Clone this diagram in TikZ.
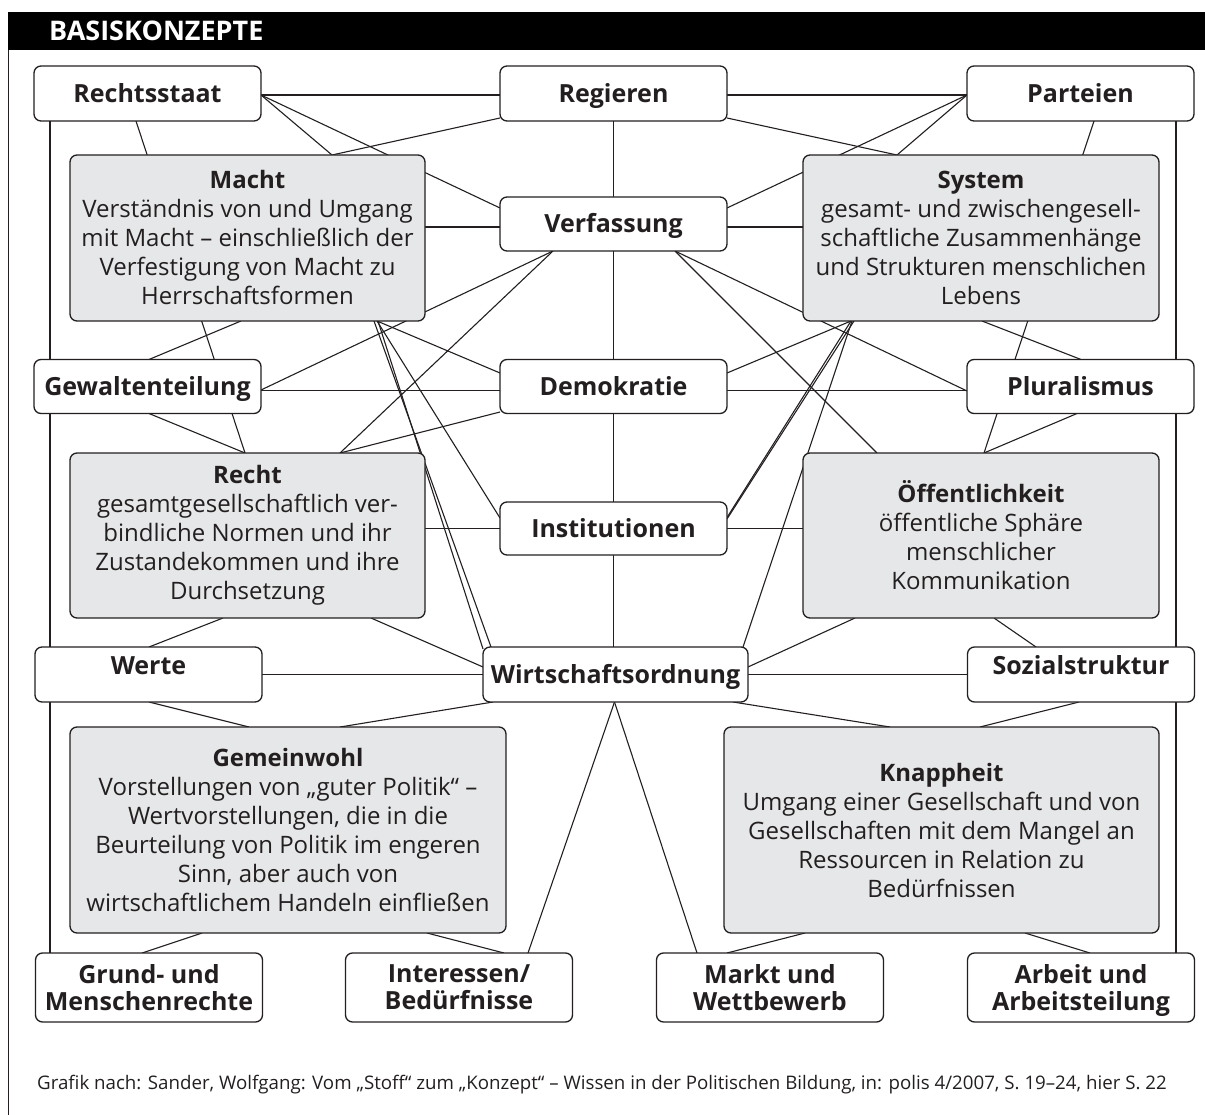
\documentclass[tikz,border=0pt]{standalone}
\usepackage{fontspec}
\setmainfont{Open Sans}
\usetikzlibrary{calc,backgrounds}
\definecolor{boxgray}{RGB}{230,231,232}
\definecolor{ink}{RGB}{35,31,32}
\newcommand\lblfont{\fontsize{25}{27}\selectfont\bfseries}
\newcommand\bodyfont{\fontsize{24}{29}\selectfont}
\begin{document}
\begin{tikzpicture}[x=1pt,y=-1pt,
  wbox/.style={draw=ink, line width=1.3pt, fill=white, rounded corners=7pt,
    minimum width=227pt, minimum height=55pt, inner sep=0pt, outer sep=0pt,
    font=\lblfont, text=ink, align=center},
  oneline/.style={text height=18pt, text depth=0pt},
  twoline/.style={minimum height=69pt, text depth=0pt},
  gbox/.style={draw=ink, line width=1.3pt, fill=boxgray, rounded corners=7pt,
    inner sep=0pt, outer sep=0pt, font=\bodyfont, text=ink, align=center},
  link/.style={draw=ink, line width=1.1pt}]
\useasboundingbox (0,0) rectangle (1205,1115);
% header
\fill[black] (8,12) rectangle (1205,50);
\node[anchor=west, text=white, font=\fontsize{27}{29}\selectfont\bfseries, inner sep=0pt] (title) at (49,31) {BASISKONZEPTE};
\draw[ink, line width=1.3pt] (8.5,50) -- (8.5,1115);

% white boxes
\node[wbox, oneline] (rechtsstaat) at (147.5,93.5) {Rechtsstaat};
\node[wbox, oneline] (regieren) at (613.5,93.5) {Regieren};
\node[wbox, oneline] (parteien) at (1080.5,93.5) {Parteien};
\node[wbox, oneline, minimum height=54pt] (verfassung) at (613.5,224) {Verfassung};
\node[wbox, oneline, minimum height=54pt] (gewaltenteilung) at (147.5,386.5) {Gewaltenteilung};
\node[wbox, oneline, minimum height=54pt] (demokratie) at (613.5,386.5) {Demokratie};
\node[wbox, oneline, minimum height=54pt] (pluralismus) at (1080.5,386.5) {Pluralismus};
\node[wbox, oneline, minimum height=53pt] (institutionen) at (613.5,528.5) {Institutionen};
\node[wbox, oneline] (werte) at (148.5,674.5) {\raisebox{9pt}[\height][\depth]{Werte}};
\node[wbox, oneline, minimum width=265pt] (wirtschaft) at (615.5,674.5) {Wirtschaftsordnung};
\node[wbox, oneline] (sozial) at (1081,674.5) {\raisebox{9pt}[\height][\depth]{Sozialstruktur}};
\node[wbox, twoline] (grund) at (149,987.5) {Grund- und\\Menschenrechte};
\node[wbox, twoline] (interessen) at (459,987.5) {Interessen/\\Bedürfnisse};
\node[wbox, twoline] (markt) at (770,987.5) {Markt und\\Wettbewerb};
\node[wbox, twoline] (arbeit) at (1081,987.5) {Arbeit und\\Arbeitsteilung};

% gray boxes
\node[gbox, minimum width=355pt, minimum height=166pt] (macht) at (247.5,238)
  {{\bfseries Macht}\\Verständnis von und Umgang\\mit Macht – einschließlich der\\Verfestigung von Macht zu\\Herrschaftsformen};
\node[gbox, minimum width=356pt, minimum height=166pt] (system) at (981,238)
  {{\bfseries System}\\gesamt- und zwischengesell-\\schaftliche Zusammenhänge\\und Strukturen menschlichen\\Lebens};
\node[gbox, minimum width=355pt, minimum height=165pt] (recht) at (247.5,535.5)
  {{\bfseries Recht}\\gesamtgesellschaftlich ver-\\bindliche Normen und ihr\\Zustandekommen und ihre\\Durchsetzung};
\node[gbox, minimum width=356pt, minimum height=165pt] (oeff) at (981,535.5)
  {{\bfseries Öffentlichkeit}\\öffentliche Sphäre\\menschlicher\\Kommunikation};
\node[gbox, minimum width=436pt, minimum height=206pt] (gemeinwohl) at (288,830)
  {{\bfseries Gemeinwohl}\\Vorstellungen von „guter Politik“ –\\Wertvorstellungen, die in die\\Beurteilung von Politik im engeren\\Sinn, aber auch von\\wirtschaftlichem Handeln einfließen};
\node[gbox, minimum width=435pt, minimum height=206pt] (knappheit) at (941.5,830)
  {{\bfseries Knappheit}\\Umgang einer Gesellschaft und von\\Gesellschaften mit dem Mangel an\\Ressourcen in Relation zu\\Bedürfnissen};

% footnote
\node[anchor=west, inner sep=0pt, font=\fontsize{18.7}{20}\selectfont, text=ink] (quelle) at (37,1085)
  {Grafik nach: Sander, Wolfgang: Vom „Stoff“ zum „Konzept“ – Wissen in der Politischen Bildung, in: polis 4/2007, S. 19–24, hier S. 22};

\begin{scope}[on background layer]
% verticals
\draw[link] ($(rechtsstaat.south west)+(16,0)$) -- ($(grund.north west)+(14.5,0)$);
\draw[link] (regieren.south) -- (regieren.south |- wirtschaft.north);
\draw[link] ($(parteien.south east)+(-18,0)$) -- ($(arbeit.north east)+(-18.5,0)$);
% horizontals
\draw[link] ($(rechtsstaat.east)+(0,1.5)$) -- ($(regieren.west)+(0,1.5)$);
\draw[link] ($(regieren.east)+(0,1.5)$) -- ($(parteien.west)+(0,1.5)$);
\draw[link] ($(verfassung.west)+(0,3)$) coordinate (h3) -- (h3 -| macht.east);
\draw[link] ($(verfassung.east)+(0,3)$) coordinate (h4) -- (h4 -| system.west);
\draw[link] ($(demokratie.west)+(0,4)$) coordinate (h5) -- (h5 -| gewaltenteilung.east);
\draw[link] ($(demokratie.east)+(0,4)$) coordinate (h6) -- (h6 -| pluralismus.west);
\draw[link] (institutionen.west) -- (institutionen.west -| recht.east);
\draw[link] (institutionen.east) -- (institutionen.east -| oeff.west);
\draw[link] (wirtschaft.west) -- (wirtschaft.west -| werte.east);
\draw[link] (wirtschaft.east) -- (wirtschaft.east -| sozial.west);
% top diagonals
\draw[link] ($(rechtsstaat.east)+(0,1.5)$) -- ($(macht.north west)+(262,0)$);
\draw[link] ($(rechtsstaat.east)+(0,1.5)$) -- ($(verfassung.north west)+(0,11)$);
\draw[link] ($(regieren.south west)+(0,-3)$) -- ($(macht.north west)+(262,0)$);
\draw[link] ($(regieren.south east)+(0,-3)$) -- ($(system.north west)+(94,0)$);
\draw[link] ($(parteien.west)+(0,1.5)$) -- ($(system.north west)+(94,0)$);
\draw[link] ($(parteien.west)+(0,1.5)$) -- ($(verfassung.north east)+(0,11)$);
\draw[link] ($(rechtsstaat.south west)+(102,0)$) -- ($(recht.north west)+(175,0)$);
\draw[link] ($(parteien.south west)+(127,0)$) -- ($(oeff.north west)+(181,0)$);
\draw[link] ($(gewaltenteilung.north west)+(115,0)$) -- ($(macht.south west)+(171,0)$);
\draw[link] ($(pluralismus.north west)+(114,0)$) -- ($(system.south west)+(179,0)$);
% Verfassung downwards
\draw[link] ($(verfassung.south west)+(53,0)$) -- ($(gewaltenteilung.east)+(0,3.5)$);
\draw[link] ($(verfassung.south west)+(175,0)$) -- ($(pluralismus.west)+(0,4.5)$);
\draw[link] ($(verfassung.south west)+(53,0)$) -- ($(recht.north west)+(270,0)$);
\draw[link] ($(verfassung.south west)+(175,0)$) -- ($(oeff.north west)+(74,0)$);
% Macht bottom fan
\draw[link] ($(macht.south west)+(307,0)$) -- ($(demokratie.north west)+(0,13.5)$);
\draw[link] ($(macht.south west)+(307,0)$) -- ($(institutionen.north west)+(0,16)$);
\draw[link] ($(macht.south west)+(304,0)$) -- ($(wirtschaft.north west)+(8,0)$);
\draw[link] ($(macht.south west)+(308,0)$) -- ($(wirtschaft.north west)+(0,2)$);
% System bottom fan
\draw[link] ($(system.south west)+(48,0)$) -- ($(demokratie.north east)+(0,13.5)$);
\draw[link] ($(system.south west)+(51,0)$) -- ($(institutionen.north east)+(0,17)$);
\draw[link] ($(system.south west)+(48,0)$) -- ($(institutionen.north east)+(0,15.5)$);
\draw[link] ($(system.south west)+(49,0)$) -- ($(wirtschaft.north east)+(-5,0)$);
% middle rows
\draw[link] ($(recht.north west)+(270,0)$) -- ($(demokratie.south west)+(0,-1.5)$);
\draw[link] ($(gewaltenteilung.south west)+(115,0)$) -- ($(recht.north west)+(175,0)$);
\draw[link] ($(pluralismus.south west)+(110,0)$) -- ($(oeff.north west)+(181,0)$);
\draw[link] ($(recht.south west)+(153,0)$) -- ($(werte.north west)+(114,0)$);
\draw[link] ($(recht.south west)+(301,0)$) -- ($(wirtschaft.north west)+(0,20)$);
\draw[link] ($(oeff.south west)+(52,0)$) -- ($(wirtschaft.north east)+(0,20)$);
\draw[link] ($(oeff.south west)+(191,0)$) -- ($(sozial.north west)+(68.5,0)$);
% lower rows
\draw[link] ($(werte.south west)+(114,0)$) -- ($(gemeinwohl.north west)+(179,0)$);
\draw[link] ($(wirtschaft.south west)+(10,0)$) -- ($(gemeinwohl.north west)+(270,0)$);
\draw[link] ($(wirtschaft.south east)+(-15,0)$) -- ($(knappheit.north west)+(166,0)$);
\draw[link] ($(sozial.south west)+(111.5,0)$) -- ($(knappheit.north west)+(256,0)$);
\draw[link] ($(gemeinwohl.south west)+(132,0)$) -- ($(grund.north west)+(106.5,0)$);
\draw[link] ($(gemeinwohl.south west)+(357,0)$) -- ($(interessen.north west)+(158.5,0)$);
\draw[link] ($(wirtschaft.south)+(-1,0)$) -- ($(interessen.north west)+(182.5,0)$);
\draw[link] ($(wirtschaft.south)+(-1,0)$) -- ($(markt.north west)+(40.5,0)$);
\draw[link] ($(knappheit.south west)+(81,0)$) -- ($(markt.north west)+(70.5,0)$);
\draw[link] ($(knappheit.south west)+(301,0)$) -- ($(arbeit.north west)+(122.5,0)$);
\end{scope}
\end{tikzpicture}
\end{document}
